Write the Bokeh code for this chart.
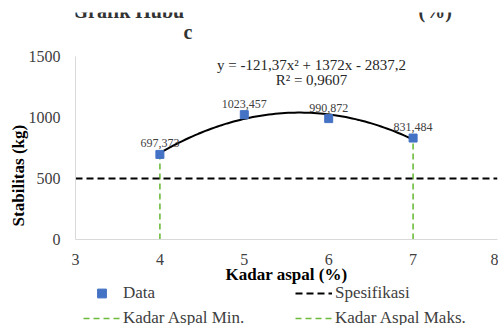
import numpy as np
from bokeh.plotting import figure
from bokeh.models import (ColumnDataSource, FixedTicker, Label, Legend, LegendItem, Range1d)
from bokeh.layouts import column
from bokeh.embed import file_html
from bokeh.resources import INLINE

# ---------------- data ----------------
kadar = [4, 5, 6, 7]
stabilitas = [697.373, 1023.457, 990.872, 831.484]
data_labels = ["697,373", "1023,457", "990,872", "831,484"]
trend_coef = [-121.37, 1372.0, -2837.2]          # y = a x^2 + b x + c
trend_text = "y = -121,37x² + 1372x - 2837,2"
r2_text = "R² = 0,9607"
spesifikasi = 500
kadar_min = 4
kadar_maks = 7
x_ticks = [3, 4, 5, 6, 7, 8]
y_ticks = [0, 500, 1000, 1500]
legend_names = ["Data", "Spesifikasi", "Kadar Aspal Min.", "Kadar Aspal Maks."]
title_fragments = ["Grafik Hubu", "(%)", "c"]
x_title = "Kadar aspal (%)"
y_title = "Stabilitas (kg)"

SERIF = "Liberation Serif"
BLUE = "#4472C4"
GREEN = "#6CBB3C"
TXT = "#404040"
NB = "\u00a0"
W = 498
TOP_H = 44
MAIN_BOTTOM = 286
MAIN_H = MAIN_BOTTOM - TOP_H
LEG_H = 325 - MAIN_BOTTOM

xr = Range1d(x_ticks[0], x_ticks[-1])

def dx(px):
    return x_ticks[0] + (px - 75) * (x_ticks[-1] - x_ticks[0]) / 422.0

def dy(py):
    return (240 - py) * (y_ticks[-1] - y_ticks[0]) / 184.0

def bare(fig):
    fig.outline_line_color = None
    fig.xgrid.visible = False
    fig.ygrid.visible = False

# ---------- strip with the partly hidden chart title (clipped at its top) ----------
t = figure(width=W, height=TOP_H, output_backend="svg", toolbar_location=None,
           x_range=xr, y_range=Range1d(0, TOP_H - 12),
           x_axis_location=None, y_axis_location=None,
           min_border_left=75, min_border_right=1, min_border_top=12, min_border_bottom=0)
bare(t)
for txt, px, py in zip(title_fragments, [72, 418, 183], [17.5, 17.5, 38.5]):
    t.add_layout(Label(x=dx(px), y=TOP_H - (py - 7), text=txt, text_align="left",
                       text_baseline="alphabetic", text_font=SERIF,
                       text_font_size="20px", text_font_style="bold", text_color="#333333"))

# ---------------- main chart ----------------
p = figure(width=W, height=MAIN_H, output_backend="svg", toolbar_location=None,
           x_range=xr, y_range=Range1d(y_ticks[0], y_ticks[-1]),
           min_border_left=75, min_border_right=1, min_border_top=56 - TOP_H,
           min_border_bottom=MAIN_BOTTOM - 240)
bare(p)

for ax in (p.xaxis[0], p.yaxis[0]):
    ax.axis_line_color = "#D9D9D9"
    ax.axis_line_width = 1
    ax.major_tick_line_color = None
    ax.minor_tick_line_color = None
    ax.major_tick_out = 0
    ax.major_tick_in = 0
    ax.minor_tick_out = 0
    ax.major_label_text_font = SERIF
    ax.major_label_text_font_size = "16px"
    ax.major_label_text_color = TXT
    ax.axis_label_text_font = SERIF
    ax.axis_label_text_font_size = "17px"
    ax.axis_label_text_font_style = "bold"
    ax.axis_label_text_color = "black"
p.xaxis[0].ticker = FixedTicker(ticks=x_ticks)
p.yaxis[0].ticker = FixedTicker(ticks=y_ticks)
p.xaxis[0].major_label_standoff = 14
p.yaxis[0].major_label_standoff = 15
p.xaxis[0].axis_label = x_title
p.xaxis[0].axis_label_standoff = -3
p.yaxis[0].axis_label = y_title + NB * 13
p.yaxis[0].axis_label_standoff = -2

# green vertical dashed lines
top_min = stabilitas[kadar.index(kadar_min)]
top_max = stabilitas[kadar.index(kadar_maks)]
p.line([kadar_min, kadar_min], [0, top_min], line_color=GREEN, line_width=1.6,
       line_dash="6 4")
p.line([kadar_maks, kadar_maks], [0, top_max], line_color=GREEN, line_width=1.6,
       line_dash="6 4")

# specification line
p.line([x_ticks[0], x_ticks[-1]], [spesifikasi, spesifikasi], line_color="black",
       line_width=2, line_dash="7 4")

# trendline drawn from the displayed equation
xs = np.linspace(kadar[0], kadar[-1], 80)
ys = np.polyval(trend_coef, xs)
p.line(xs, ys, line_color="black", line_width=2)

src = ColumnDataSource(dict(x=kadar, y=stabilitas, lab=data_labels))
p.scatter("x", "y", source=src, marker="square", size=8, fill_color=BLUE, line_color=BLUE)
p.text("x", "y", text="lab", source=src, text_align="center", text_baseline="alphabetic",
       y_offset=-11, text_font={"value": SERIF}, text_font_size="12px", text_color=TXT)

p.add_layout(Label(x=dx(311), y=dy(72.5), text=trend_text, text_align="center",
                   text_font=SERIF, text_font_size="15px", text_color="#262626"))
p.add_layout(Label(x=dx(311), y=dy(87.5), text=r2_text, text_align="center",
                   text_font=SERIF, text_font_size="15px", text_color="#262626"))

# ---------------- legend strip ----------------
# y range of this strip lies below the data, so its copies of the series stay hidden
base = -2 * LEG_H
lf = figure(width=W, height=LEG_H, output_backend="svg", toolbar_location=None,
            x_range=xr, y_range=Range1d(base, base + LEG_H),
            x_axis_location=None, y_axis_location=None,
            min_border_left=75, min_border_right=1, min_border_top=0, min_border_bottom=0)
bare(lf)

l_data = lf.scatter("x", "y", source=src, marker="square", size=8, fill_color=BLUE,
                    line_color=BLUE)
l_spec = lf.line([x_ticks[0], x_ticks[-1]], [spesifikasi, spesifikasi], line_color="black",
                 line_width=2, line_dash="7 4")
l_min = lf.line([kadar_min, kadar_min], [0, top_min], line_color=GREEN, line_width=1.6,
                line_dash="6 4")
l_max = lf.line([kadar_maks, kadar_maks], [0, top_max], line_color=GREEN, line_width=1.6,
                line_dash="6 4")

legend = Legend(items=[LegendItem(label=legend_names[0], renderers=[l_data]),
                       LegendItem(label=legend_names[2], renderers=[l_min]),
                       LegendItem(label=legend_names[1], renderers=[l_spec]),
                       LegendItem(label=legend_names[3], renderers=[l_max])],
                location=(8, -4), ncols=2,
                glyph_width=37, glyph_height=22, label_height=22, label_width=169,
                label_standoff=3, spacing=3, padding=0, margin=0,
                border_line_alpha=0, background_fill_alpha=0,
                label_text_font=SERIF, label_text_font_size="17px", label_text_color=TXT)
lf.add_layout(legend, "center")

open("out.html", "w").write(file_html(column(t, p, lf), INLINE))
